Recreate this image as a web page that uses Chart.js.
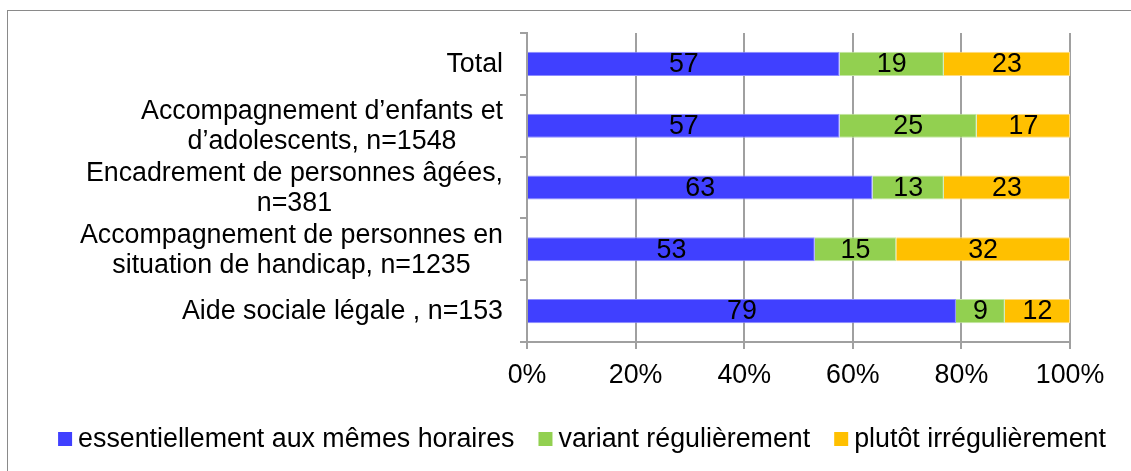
<!DOCTYPE html>
<html>
<head>
<meta charset="utf-8">
<script src="https://cdn.jsdelivr.net/npm/chart.js@4"></script>
<style>
  html, body { margin: 0; padding: 0; background: #fff; overflow: hidden; }
  #wrap { position: relative; width: 1131px; height: 471px; }
  #frame { position: absolute; left: 7px; top: 10px; width: 1300px; height: 600px; border: 1px solid #8a8a8a; }
  #myChart { position: absolute; left: 0; top: 0; }
</style>
</head>
<body>
<div id="wrap">
  <div id="frame"></div>
  <canvas id="myChart" width="1131" height="471"></canvas>
</div>
<script>
const categories = [
  ["Total"],
  ["Accompagnement d\u2019enfants et", "d\u2019adolescents, n=1548"],
  ["Encadrement de personnes âgées,", "n=381"],
  ["Accompagnement de personnes en", "situation de handicap, n=1235"],
  ["Aide sociale légale , n=153"],
];
const seriesNames = [
  "essentiellement aux mêmes horaires",
  "variant régulièrement",
  "plutôt irrégulièrement",
];
const memesHoraires = [57, 57, 63, 53, 79];
const variant = [19, 25, 13, 15, 9];
const irregulier = [23, 17, 23, 32, 12];
const xTicks = [0, 20, 40, 60, 80, 100];

const colors = ["#4040ff", "#92d050", "#ffc000"];
const edges = ["#8c8cff", "#c3e6a3", "#ffdc80"];
const FONT = "Liberation Sans, Arial, sans-serif";
const SIZE = 26.8;

// 100% stacked: each row is shown as share of its own total
const raw = [memesHoraires, variant, irregulier];
const rowTotals = categories.map((_, i) => raw.reduce((acc, s) => acc + s[i], 0));

const data = {
  labels: categories.map((c) => c.join(" ")),
  datasets: raw.map((s, k) => ({
    label: seriesNames[k],
    data: s.map((v, i) => (v / rowTotals[i]) * 100),
    raw: s,
    backgroundColor: colors[k],
    borderColor: edges[k],
    borderWidth: 1,
    barPercentage: 0.39,
    categoryPercentage: 1,
  })),
};

const drawExtras = {
  id: "drawExtras",
  afterDatasetsDraw(chart) {
    const ctx = chart.ctx;
    ctx.save();
    ctx.fillStyle = "#000";
    ctx.font = SIZE + "px " + FONT;
    ctx.textAlign = "center";
    ctx.textBaseline = "middle";
    // values in the bars
    chart.data.datasets.forEach((ds, k) => {
      chart.getDatasetMeta(k).data.forEach((el, i) => {
        const p = el.getProps(["x", "y", "base"], true);
        ctx.fillText(String(ds.raw[i]), (p.x + p.base) / 2, p.y + 1);
      });
    });
    // category labels: block right aligned, lines centered in the block
    const yScale = chart.scales.y;
    const right = chart.chartArea.left - 24;
    categories.forEach((lines, i) => {
      const w = Math.max(...lines.map((l) => ctx.measureText(l).width));
      const cx = right - w / 2;
      const cy = yScale.getPixelForValue(i);
      const lh = 30;
      lines.forEach((l, j) => {
        ctx.fillText(l, cx, cy + 1 + (j - (lines.length - 1) / 2) * lh);
      });
    });
    // legend
    const box = 14, gap = 6, between = 24;
    const widths = seriesNames.map((n) => box + gap + ctx.measureText(n).width);
    const total = widths.reduce((a, b) => a + b, 0) + between * (widths.length - 1);
    let x = 582 - total / 2;
    const ly = 439;
    ctx.textAlign = "left";
    seriesNames.forEach((n, k) => {
      ctx.fillStyle = colors[k];
      ctx.fillRect(x, ly - 7, box, box);
      ctx.fillStyle = "#000";
      ctx.fillText(n, x + box + gap, ly + 1);
      x += widths[k] + between;
    });
    ctx.restore();
  },
};

const config = {
  type: "bar",
  data: data,
  options: {
    indexAxis: "y",
    responsive: false,
    animation: false,
    layout: { padding: { top: 33, right: 61, left: 0, bottom: 69 } },
    plugins: {
      legend: { display: false },
      tooltip: { enabled: false },
    },
    scales: {
      x: {
        stacked: true,
        min: 0,
        max: 100,
        afterBuildTicks: (axis) => {
          axis.ticks = xTicks.map((v) => ({ value: v }));
        },
        afterFit: (axis) => {
          axis.height = 60;
        },
        ticks: {
          callback: (v) => v + "%",
          color: "#000",
          font: { family: FONT, size: SIZE },
          padding: 11,
          maxRotation: 0,
        },
        grid: { color: "#a0a0a0", lineWidth: 2, tickLength: 7 },
        border: { color: "#a0a0a0", width: 2 },
      },
      y: {
        stacked: true,
        offset: true,
        afterFit: (axis) => {
          axis.width = 527;
        },
        ticks: { display: false },
        grid: { offset: true, drawOnChartArea: false, tickLength: 7, color: "#a0a0a0", lineWidth: 2 },
        border: { color: "#a0a0a0", width: 2 },
      },
    },
  },
  plugins: [drawExtras],
};

var myChart = new Chart(document.getElementById("myChart"), config);
</script>
</body>
</html>
